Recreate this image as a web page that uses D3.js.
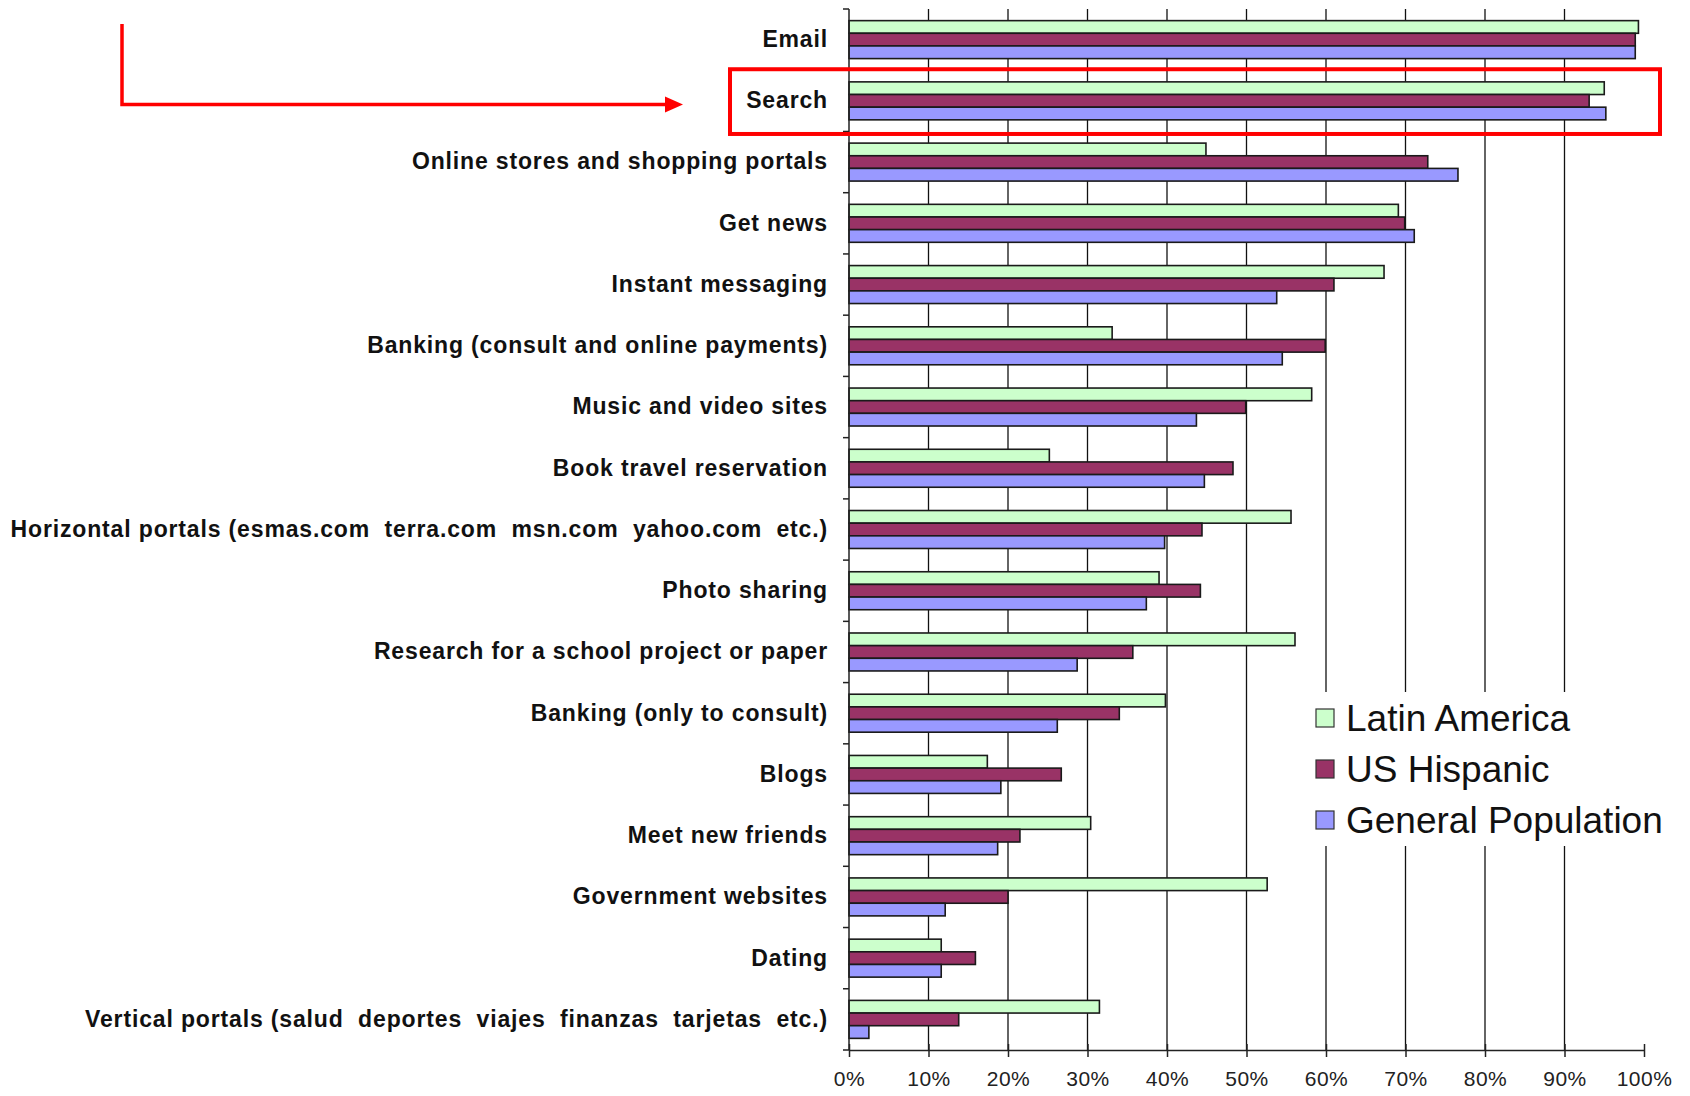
<!DOCTYPE html>
<html>
<head>
<meta charset="utf-8">
<script src="https://cdn.jsdelivr.net/npm/d3@7"></script>
<style>
  body { margin: 0; background: #fff; }
  svg { display: block; }
  .cat text { white-space: pre; }
</style>
</head>
<body>
<div class="chart"></div>
<script>
// categories, top to bottom
var categories = [
  'Email',
  'Search',
  'Online stores and shopping portals',
  'Get news',
  'Instant messaging',
  'Banking (consult and online payments)',
  'Music and video sites',
  'Book travel reservation',
  'Horizontal portals (esmas.com  terra.com  msn.com  yahoo.com  etc.)',
  'Photo sharing',
  'Research for a school project or paper',
  'Banking (only to consult)',
  'Blogs',
  'Meet new friends',
  'Government websites',
  'Dating',
  'Vertical portals (salud  deportes  viajes  finanzas  tarjetas  etc.)'
];

var seriesNames = ['Latin America', 'US Hispanic', 'General Population'];
var seriesColors = ['#CCFFCC', '#993366', '#9999FF'];

// values in %, same order as categories
var latinAmerica = [99.3, 95.0, 44.9, 69.1, 67.3, 33.1, 58.2, 25.2, 55.6, 39.0, 56.1, 39.8, 17.4, 30.4, 52.6, 11.6, 31.5];
var usHispanic   = [98.9, 93.1, 72.8, 69.9, 61.0, 59.9, 49.9, 48.3, 44.4, 44.2, 35.7, 34.0, 26.7, 21.5, 20.0, 15.9, 13.8];
var generalPop   = [98.9, 95.2, 76.6, 71.1, 53.8, 54.5, 43.7, 44.7, 39.7, 37.4, 28.7, 26.2, 19.1, 18.7, 12.1, 11.6, 2.5];

var xTicks = [0, 10, 20, 30, 40, 50, 60, 70, 80, 90, 100];
var highlight = 'Search';

var W = 1690, H = 1096;

var svg = d3.select('.chart')
  .append('svg')
  .attr('width', W)
  .attr('height', H);

var xScale = d3.scaleLinear()
  .domain([0, 100])
  .range([849, 1644]);

var yScale = d3.scaleBand()
  .domain(categories)
  .range([9, 1050])
  .padding(0);

var bw = yScale.bandwidth();

var ySub = d3.scaleBand()
  .domain(seriesNames)
  .range([bw * 0.19, bw * 0.81]);

var rows = categories.map(function(c, i) {
  return { cat: c, vals: [latinAmerica[i], usHispanic[i], generalPop[i]] };
});

// gridlines
svg.append('g')
  .selectAll('line')
  .data(xTicks.filter(function(t) { return t > 0 && t < 100; }))
  .enter()
  .append('line')
  .attr('x1', d => xScale(d))
  .attr('x2', d => xScale(d))
  .attr('y1', yScale.range()[0])
  .attr('y2', yScale.range()[1])
  .style('stroke', '#111')
  .style('stroke-width', 1.3);

// bars
var groups = svg.append('g')
  .selectAll('.grp')
  .data(rows)
  .enter()
  .append('g')
  .attr('class', 'grp')
  .attr('transform', d => 'translate(0,' + yScale(d.cat) + ')');

groups.selectAll('rect')
  .data(d => d.vals.map(function(v, j) { return { v: v, s: seriesNames[j], c: seriesColors[j] }; }))
  .enter()
  .append('rect')
  .attr('x', xScale(0))
  .attr('y', d => ySub(d.s))
  .attr('width', d => xScale(d.v) - xScale(0))
  .attr('height', ySub.bandwidth())
  .style('fill', d => d.c)
  .style('stroke', '#1a1a1a')
  .style('stroke-width', 1.6);

// left axis line + boundary ticks
var yTop = yScale.range()[0], yBot = yScale.range()[1];
svg.append('line')
  .attr('x1', xScale(0)).attr('x2', xScale(0))
  .attr('y1', yTop).attr('y2', yBot)
  .style('stroke', '#222').style('stroke-width', 1.5);

svg.append('g')
  .selectAll('line')
  .data(categories.map(c => yScale(c)).concat([yBot]))
  .enter()
  .append('line')
  .attr('x1', xScale(0) - 6).attr('x2', xScale(0))
  .attr('y1', d => d).attr('y2', d => d)
  .style('stroke', '#222').style('stroke-width', 1.5);

// category labels
var yAxis = svg.append('g')
  .attr('class', 'cat')
  .attr('transform', 'translate(' + xScale(0) + ',0)')
  .call(d3.axisLeft(yScale).tickSize(0).tickPadding(21));
yAxis.select('.domain').remove();
yAxis.selectAll('text')
  .style('font-family', '"Liberation Sans", Arial, sans-serif')
  .style('font-weight', 'bold')
  .style('font-size', '23px')
  .style('letter-spacing', '0.85px')
  .style('fill', '#111');

// bottom axis
var xAxis = svg.append('g')
  .attr('transform', 'translate(0,' + yBot + ')')
  .call(d3.axisBottom(xScale)
    .tickValues(xTicks)
    .tickFormat(d => d + '%')
    .tickSizeInner(7)
    .tickSizeOuter(0)
    .tickPadding(14));
xAxis.select('.domain').style('stroke', '#222').style('stroke-width', 1.5);
xAxis.selectAll('.tick line')
  .attr('y1', -6)
  .style('stroke', '#222').style('stroke-width', 1.5);
xAxis.selectAll('text')
  .style('font-family', '"Liberation Sans", Arial, sans-serif')
  .style('font-size', '21px')
  .style('letter-spacing', '0.5px')
  .style('fill', '#222');

// legend
var legend = svg.append('g');
legend.append('rect')
  .attr('x', 1300).attr('y', 692)
  .attr('width', 390).attr('height', 154)
  .style('fill', '#fff');

var legItems = legend.selectAll('.leg')
  .data(seriesNames)
  .enter()
  .append('g')
  .attr('class', 'leg')
  .attr('transform', (d, i) => 'translate(1316,' + (718 + i * 51) + ')');

legItems.append('rect')
  .attr('x', 0).attr('y', -9)
  .attr('width', 18).attr('height', 18)
  .style('fill', (d, i) => seriesColors[i])
  .style('stroke', '#333')
  .style('stroke-width', 1.2);

legItems.append('text')
  .attr('x', 30)
  .attr('y', 13)
  .style('font-family', '"Liberation Sans", Arial, sans-serif')
  .style('font-size', '37px')
  .style('fill', '#111')
  .text(d => d);

// red annotation: box round the highlighted row, and arrow
svg.append('rect')
  .attr('x', 730)
  .attr('y', yScale(highlight) - 1)
  .attr('width', 930)
  .attr('height', bw + 3.5)
  .style('fill', 'none')
  .style('stroke', '#FF0000')
  .style('stroke-width', 4);

var arrowY = yScale(highlight) + bw * 0.56;
svg.append('path')
  .attr('d', 'M122,24 V' + arrowY + ' H668')
  .style('fill', 'none')
  .style('stroke', '#FF0000')
  .style('stroke-width', 3.5);
svg.append('path')
  .attr('d', 'M665,' + (arrowY - 8) + ' L683,' + arrowY + ' L665,' + (arrowY + 8) + ' Z')
  .style('fill', '#FF0000');
</script>
</body>
</html>
